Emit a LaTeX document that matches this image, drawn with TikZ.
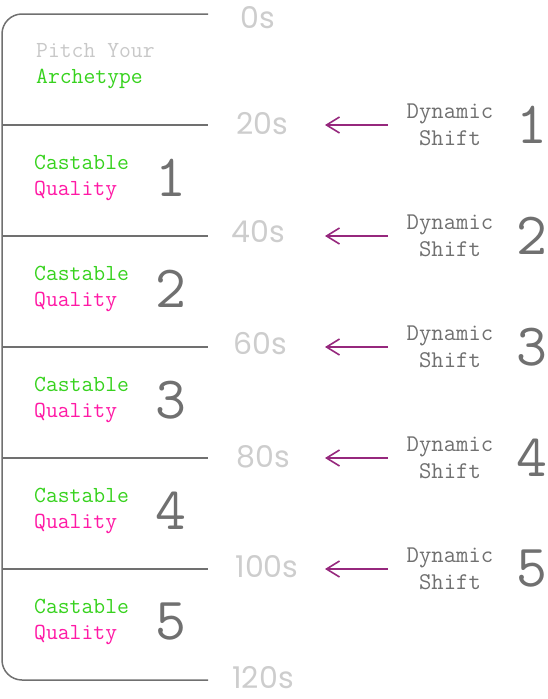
\documentclass[tikz,border=0pt]{standalone}
\usepackage{fontspec}
\newfontfamily\timefont{Poppins}
\usetikzlibrary{arrows.meta}
\definecolor{linegray}{RGB}{112,112,112}
\definecolor{timegray}{RGB}{205,205,205}
\definecolor{pitchgray}{RGB}{200,200,200}
\definecolor{castgreen}{RGB}{55,210,30}
\definecolor{qualpink}{RGB}{255,25,165}
\definecolor{shiftpurple}{RGB}{150,40,125}
\tikzset{
	frameline/.style={linegray,line width=1.5pt},
	timelabel/.style={text=timegray,inner sep=0pt,font=\timefont\fontsize{30}{30}\selectfont},
	boxtext/.style={anchor=west,inner sep=0pt,font=\ttfamily\fontsize{23}{23}\selectfont},
	bignum/.style={text=linegray,inner sep=0pt,font=\ttfamily\fontsize{60}{60}\selectfont},
	shifttext/.style={text=linegray,align=center,inner sep=0pt,font=\ttfamily\fontsize{24}{27}\selectfont},
	shiftarrow/.style={shiftpurple,line width=1.6pt,-{Straight Barb[length=13pt,width=16pt]}}
}
\begin{document}
\begin{tikzpicture}[x=1pt,y=-1pt]
	\useasboundingbox (0,0) rectangle (548,699);
	% outer frame
	\draw[frameline,rounded corners=20pt] (208,14) -- (2,14) -- (2,680) -- (208,680);
	% first box
	\node[boxtext,text=pitchgray] (pitch) at (36,51) {Pitch Your};
	\node[boxtext,text=castgreen] (archetype) at (36,79) {Archetype};
	% time marks
	\node[timelabel] (t0) at (258,18) {0s};
	\node[timelabel] (t20) at (262,124) {20s};
	\node[timelabel] (t40) at (258,232) {40s};
	\node[timelabel] (t60) at (260,344) {60s};
	\node[timelabel] (t80) at (263,457) {80s};
	\node[timelabel] (t100) at (267,567) {100s};
	\node[timelabel] (t120) at (263,678) {120s};
	% rows
	\foreach \i/\y in {1/125,2/236,3/347,4/458,5/569}{
		\coordinate (lineL\i) at (2,\y);
		\coordinate (lineR\i) at (208,\y);
		\draw[frameline] (lineL\i) -- (lineR\i);
		\node[boxtext,text=castgreen] (cast\i) at (34,\y+37) {Castable};
		\node[boxtext,text=qualpink] (qual\i) at (34,\y+66) {Quality};
		\node[bignum] (num\i) at (171,\y+53) {\i};
		\coordinate (tail\i) at (388,\y);
		\coordinate (tip\i) at (325,\y);
		\draw[shiftarrow] (tail\i) -- (tip\i);
		\node[shifttext] (shift\i) at (450,\y) {Dynamic\\Shift};
		\node[bignum] (snum\i) at (532,\y) {\i};
	}
\end{tikzpicture}
\end{document}
